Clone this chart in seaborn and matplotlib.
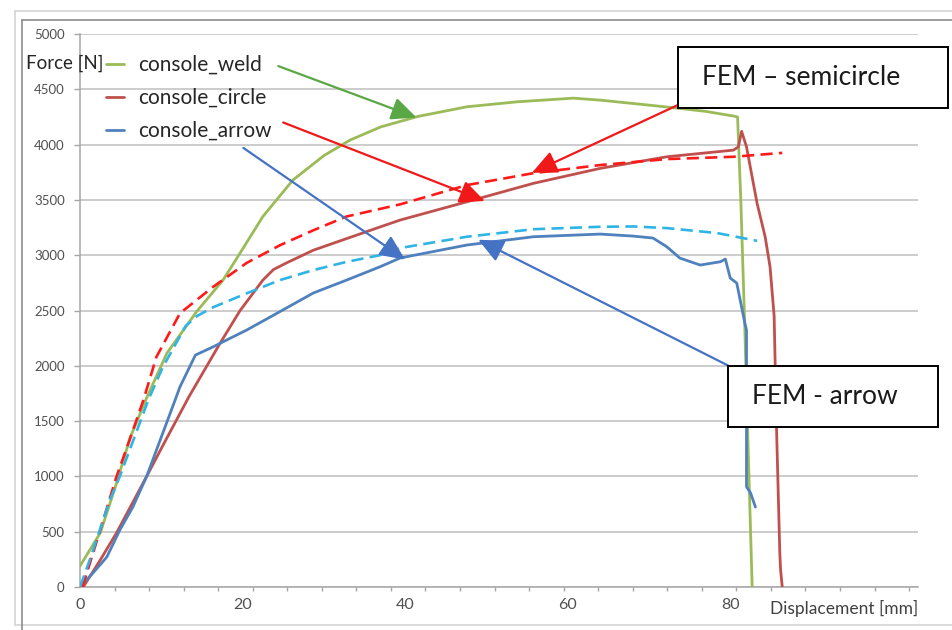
import numpy as np
import pandas as pd
import seaborn as sns
import matplotlib.pyplot as plt
from matplotlib.patches import Rectangle
from matplotlib.lines import Line2D
from matplotlib.ticker import MultipleLocator, FixedLocator

# ---- measured force / displacement curves ----
weld_x = [0, 2.5, 4.5, 6.15, 8.2, 10.7, 14.4, 17.6, 19.7, 22.5, 26.2, 30, 33.2, 37,
          41.6, 47.6, 53.8, 60.7, 64, 70, 73.8, 77, 80.4, 80.9, 81.3, 81.8, 82.3, 82.7]
weld_y = [190, 490, 940, 1347, 1710, 2115, 2495, 2775, 3020, 3350, 3680, 3900, 4040, 4160,
          4255, 4342, 4387, 4420, 4402, 4357, 4327, 4300, 4258, 4250, 3500, 2323, 1000, 0]

circle_x = [0.4, 2.5, 4.5, 8.2, 10.2, 13.4, 17.2, 19.7, 22.5, 23.8, 25.4, 28.7, 32.8, 36.9, 39.4,
            47.6, 55.8, 64, 72.2, 80.4, 81.0, 81.4, 82.0, 83.3, 84.3, 84.9, 85.4, 85.7, 86.1, 86.2, 86.4]
circle_y = [0, 245, 490, 1000, 1280, 1720, 2200, 2500, 2775, 2870, 2930, 3045, 3150, 3255, 3318,
            3483, 3650, 3785, 3890, 3950, 3980, 4120, 3980, 3470, 3165, 2893, 2450, 1420, 300, 150, 0]

arrow_x = [0, 1.6, 3.3, 4.9, 6.5, 8.2, 10, 11.7, 12.3, 14.2, 16.4, 18.5, 20.5, 24.6, 28.7,
           32.8, 36.9, 39.4, 47.6, 55.8, 64, 68, 70.5, 72.2, 73.8, 76.3, 78.8, 79.4, 80.0,
           80.8, 81.8, 82.0, 82.0, 82.5, 83.1]
arrow_y = [0, 127, 271, 515, 723, 1000, 1355, 1690, 1810, 2097, 2172, 2250, 2323, 2490, 2658,
           2775, 2895, 2975, 3092, 3167, 3191, 3173, 3155, 3076, 2974, 2911, 2941, 2965, 2793,
           2748, 2386, 2323, 907, 850, 723]

# ---- FEM predictions ----
fem_semi_x = [0.3, 2, 4.5, 6.2, 7.8, 9.4, 12.3, 16.4, 20.5, 24.6, 28.7, 32.8, 39.4, 47.6,
              55.8, 64, 72.2, 80.4, 86.4]
fem_semi_y = [0, 400, 1000, 1350, 1690, 2080, 2475, 2715, 2930, 3090, 3225, 3350, 3460, 3634,
              3742, 3815, 3869, 3890, 3925]

fem_arrow_x = [0, 1.2, 3.7, 4.9, 8.4, 10.2, 13.0, 14.4, 16.4, 20.5, 24.6, 28.7, 32.8, 36.9,
               39.4, 47.6, 55.8, 64, 68.1, 72.2, 78.4, 83.3]
fem_arrow_y = [0, 245, 790, 1000, 1690, 1990, 2360, 2450, 2530, 2655, 2775, 2865, 2940, 3000,
               3065, 3167, 3235, 3257, 3260, 3245, 3200, 3130]

legend_labels = ["console_weld", "console_circle", "console_arrow"]
x_ticks = [0, 20, 40, 60, 80]
y_ticks = list(range(0, 5001, 500))

W, H = 952, 630
def fig_xy(x, y):
    return (x / W, 1 - y / H)

sns.set_style("white")
plt.rcParams["font.family"] = ["Lato", "DejaVu Sans"]

fig = plt.figure(figsize=(W / 100, H / 100), dpi=100)
fig.patch.set_facecolor("white")
ax = fig.add_axes([80 / W, 1 - 587 / H, (918 - 80) / W, (587 - 34) / H])

c_weld, c_circle, c_arrow = "#9bbb59", "#c0504d", "#4f81bd"
c_fem_semi, c_fem_arrow = "#ff1a1a", "#2fb4e6"

frames = {
    "weld": pd.DataFrame({"d": weld_x, "f": weld_y}),
    "circle": pd.DataFrame({"d": circle_x, "f": circle_y}),
    "arrow": pd.DataFrame({"d": arrow_x, "f": arrow_y}),
    "fem_semi": pd.DataFrame({"d": fem_semi_x, "f": fem_semi_y}),
    "fem_arrow": pd.DataFrame({"d": fem_arrow_x, "f": fem_arrow_y}),
}

for key, col, lab in [("weld", c_weld, legend_labels[0]),
                      ("circle", c_circle, legend_labels[1]),
                      ("arrow", c_arrow, legend_labels[2])]:
    sns.lineplot(data=frames[key], x="d", y="f", sort=False, estimator=None,
                 color=col, lw=2.0, ax=ax, label=lab, zorder=3)

for key, col in [("fem_semi", c_fem_semi), ("fem_arrow", c_fem_arrow)]:
    sns.lineplot(data=frames[key], x="d", y="f", sort=False, estimator=None,
                 color=col, lw=1.9, ax=ax, label="_nolegend_", zorder=4,
                 linestyle=(0, (4.6, 2.4)))

ax.set_xlim(0, 103.1)
ax.set_ylim(0, 5000)
ax.set_xlabel("")
ax.set_ylabel("")

ax.yaxis.set_major_locator(FixedLocator(y_ticks))
ax.xaxis.set_major_locator(FixedLocator(x_ticks))
ax.xaxis.set_minor_locator(MultipleLocator(4.25))
ax.grid(axis="y", color="#bfbfbf", lw=1.1)
ax.grid(axis="x", visible=False)
ax.set_axisbelow(True)

for s in ["top", "right"]:
    ax.spines[s].set_visible(False)
ax.spines["left"].set_color("#a6a6a6")
ax.spines["bottom"].set_color("#a6a6a6")
ax.spines["left"].set_linewidth(1.1)
ax.spines["bottom"].set_linewidth(1.1)

ax.tick_params(axis="y", which="major", direction="out", length=4, width=1,
               color="#a6a6a6", labelsize=9.5, labelcolor="#505050", pad=7, left=True)
ax.tick_params(axis="x", which="major", length=0, labelsize=11.5, labelcolor="#505050", pad=8)
ax.tick_params(axis="x", which="minor", direction="out", length=3, width=1,
               color="#a6a6a6", bottom=True)

fig.text(*fig_xy(26, 63), "Force [N]", fontsize=13.5, color="#262626", ha="left", va="center")
fig.text(*fig_xy(918, 608), "Displacement [mm]", fontsize=12.5, color="#404040",
         ha="right", va="center")

leg = ax.legend(loc="upper left", bbox_to_anchor=fig_xy(106, 55), bbox_transform=fig.transFigure,
                frameon=False, fontsize=15, handlelength=0.85, handletextpad=0.67,
                labelspacing=0.62, borderpad=0, borderaxespad=0)
for t in leg.get_texts():
    t.set_color("#262626")

# callout boxes
for (x0, y0, x1, y1), txt, tx, fs in [((678, 47, 948, 108), "FEM \u2013 semicircle", 702, 19),
                                       ((728, 366, 938, 427), "FEM - arrow", 752, 19)]:
    fig.add_artist(Rectangle(fig_xy(x0, y1), (x1 - x0) / W, (y1 - y0) / H,
                             transform=fig.transFigure, facecolor="white",
                             edgecolor="black", lw=1.4, zorder=6))
    fig.text(*fig_xy(tx, (y0 + y1) / 2), txt, fontsize=fs, color="#1a1a1a",
             ha="left", va="center", zorder=7)

# pointer arrows (start and tip in data units)
pointers = [
    ((24.4, 4710), (41.4, 4245), "#5aa845"),
    ((25.0, 4200), (49.8, 3490), "#f01818"),
    ((73.8, 4366), (55.6, 3745), "#f01818"),
    ((20.1, 3970), (40.0, 2960), "#4472c4"),
    ((79.8, 2000), (49.0, 3140), "#4472c4"),
]
for start, tip, col in pointers:
    ax.annotate("", xy=tip, xytext=start, annotation_clip=False,
                arrowprops=dict(arrowstyle="-|>,head_length=0.55,head_width=0.25",
                                mutation_scale=28, color=col, lw=1.6,
                                shrinkA=0, shrinkB=0), zorder=5)

# chart-object frame
fig.add_artist(Line2D([15 / W, 15 / W], [1 - 11 / H, 1 - 625 / H], transform=fig.transFigure,
                      color="#d4d4d4", lw=1.2))
fig.add_artist(Line2D([15 / W, 1], [1 - 11 / H, 1 - 11 / H], transform=fig.transFigure,
                      color="#d4d4d4", lw=1.2))
fig.add_artist(Line2D([15 / W, 1], [1 - 625 / H, 1 - 625 / H], transform=fig.transFigure,
                      color="#d4d4d4", lw=1.2))
fig.add_artist(Line2D([22 / W, 22 / W], [1 - 20 / H, 0], transform=fig.transFigure,
                      color="#8c8c8c", lw=1.2))
fig.add_artist(Line2D([22 / W, 1], [1 - 20 / H, 1 - 20 / H], transform=fig.transFigure,
                      color="#8c8c8c", lw=1.2))

fig.savefig("out.png", dpi=100)
